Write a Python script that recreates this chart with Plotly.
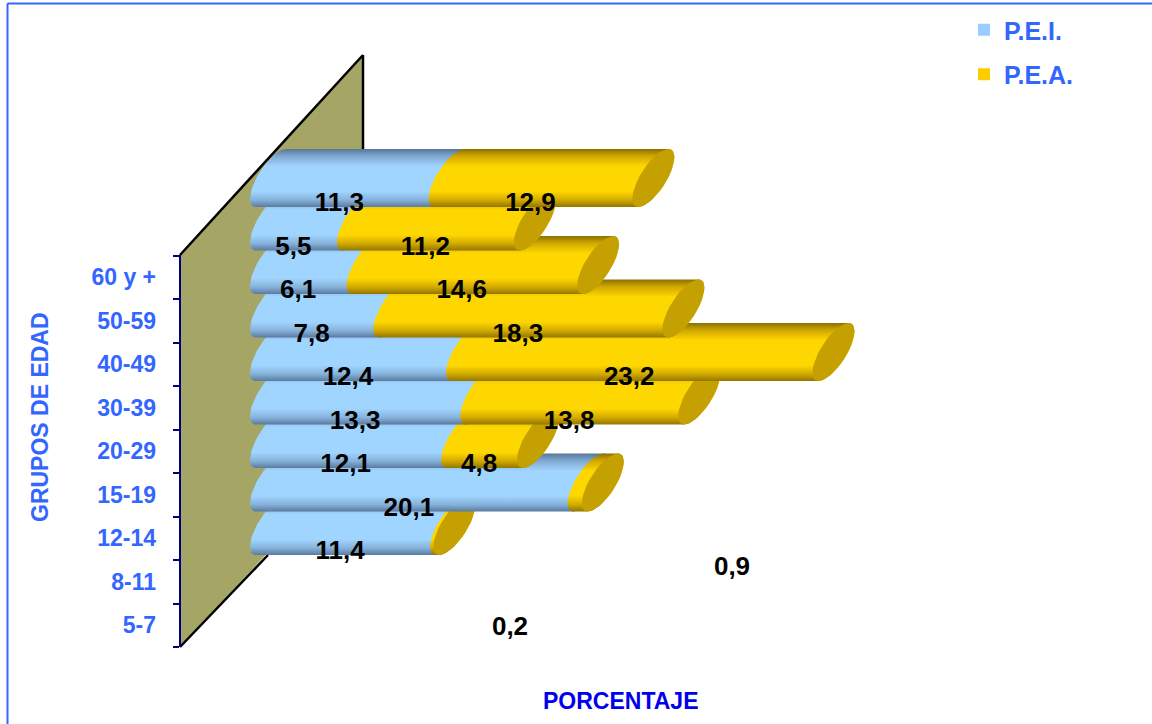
import math
import plotly.graph_objects as go

# ---- data -------------------------------------------------------------
age_groups = ["5-7", "8-11", "12-14", "15-19", "20-29", "30-39", "40-49", "50-59", "60 y +"]
pei_values = [11.4, 20.1, 12.1, 13.3, 12.4, 7.8, 6.1, 5.5, 11.3]
pea_values = [0.2, 0.9, 4.8, 13.8, 23.2, 18.3, 14.6, 11.2, 12.9]
series_names = ["P.E.I.", "P.E.A."]
x_title = "PORCENTAJE"
y_title = "GRUPOS DE EDAD"

# ---- geometry ---------------------------------------------------------
W, H = 1152, 724
PX_X = 15.8           # px per percent
PX_Y = 43.5           # px per row
BASE_PX = 250         # pixel of x = 0
PLOT_LEFT = 180
ROW0_PX = 625.25      # pixel of row 0 centre
LIFT = (ROW0_PX - 555) / PX_Y   # row units from category centre to bar bottom
RX, RY = 21 / PX_X, 29 / PX_Y   # half extents of the tilted cross-section
PHI = math.radians(44.4)
STEPS = 36

BLUE, GOLD, CAP, WALL = "#99CCFF", "#FFCC00", "#C4A000", "#A5A565"
ACCENT, NAVY = "#3366FF", "#000080"
FONT = "Liberation Sans"

blue_scale = [[0, "#5A7AA0"], [0.12, "#86B2DA"], [0.27, "#A0D5FF"], [0.70, "#A0D5FF"], [0.88, "#7FA7CF"], [1, "#56769A"]]
gold_scale = [[0, "#927600"], [0.12, "#D2AA00"], [0.27, "#FFD700"], [0.70, "#FFD700"], [0.88, "#CFA600"], [1, "#8A7000"]]


def ellipse_arc(x_left, y_bottom, t0, t1):
    """Outline of the cross-section whose left extreme is x_left, bottom y_bottom."""
    cx, cy = x_left + RX, y_bottom + RY
    ts = [t0 + (t1 - t0) * k / STEPS for k in range(STEPS + 1)]
    return [cx + RX * math.cos(t) for t in ts], [cy + RY * math.cos(t - PHI) for t in ts]


def cylinder(x0, x1, y_bottom):
    lx, ly = ellipse_arc(x0, y_bottom, PHI, PHI + math.pi)
    rx, ry = ellipse_arc(x1, y_bottom, PHI + math.pi, PHI + 2 * math.pi)
    return lx + rx + lx[:1], ly + ry + ly[:1]


def xp(px):
    return px / W


def yp(py):
    return 1 - py / H


fig = go.Figure()
rows = list(range(len(age_groups)))

# stacked bars: carry the values and the legend swatches
bar_px = 2 / PX_Y
bar_offset = LIFT + 8.3 / PX_Y - bar_px / 2
for name, vals, colour in zip(series_names, (pei_values, pea_values), (BLUE, GOLD)):
    fig.add_trace(go.Bar(
        y=rows, x=vals, name=name, orientation="h", width=bar_px, offset=bar_offset,
        marker=dict(color=colour, line=dict(width=0)), legendgroup=name, hoverinfo="x+name",
    ))

# cylinders, painted from the lowest row upward
for i in rows:
    yb = i + LIFT
    pei, pea = pei_values[i], pea_values[i]
    for x0, x1, scale in ((0, pei, blue_scale), (pei, pei + pea, gold_scale)):
        xs, ys = cylinder(x0, x1, yb)
        fig.add_trace(go.Scatter(
            x=xs, y=ys, mode="lines", line=dict(width=0), fill="toself",
            fillgradient=dict(type="vertical", colorscale=scale, start=yb, stop=yb + 2 * RY),
            showlegend=False, hoverinfo="skip",
        ))
    xs, ys = ellipse_arc(pei + pea, yb, 0, 2 * math.pi)
    fig.add_trace(go.Scatter(
        x=xs, y=ys, mode="lines", line=dict(width=0), fill="toself", fillcolor=CAP,
        showlegend=False, hoverinfo="skip",
    ))

# value labels
LABEL_DROP = 2.5 / PX_Y
moved_labels = {0: (510, 628), 1: (732, 568)}   # P.E.A. labels dragged away from their bars
lab_x, lab_y, lab_t = [], [], []
for i in rows:
    lab_x.append(pei_values[i] / 2)
    lab_y.append(i + LIFT + LABEL_DROP)
    lab_t.append(f"{pei_values[i]:.1f}".replace(".", ","))
    if i in moved_labels:
        px, py = moved_labels[i]
        lab_x.append((px - BASE_PX) / PX_X)
        lab_y.append((ROW0_PX - py) / PX_Y)
    else:
        lab_x.append(pei_values[i] + pea_values[i] / 2)
        lab_y.append(i + LIFT + LABEL_DROP)
    lab_t.append(f"{pea_values[i]:.1f}".replace(".", ","))
fig.add_trace(go.Scatter(
    x=lab_x, y=lab_y, text=lab_t, mode="text", textposition="middle center",
    textfont=dict(family=FONT, size=26, color="black", weight="bold"), showlegend=False, hoverinfo="skip",
))

# wall and frame
wall_path = (f"M{xp(180)},{yp(647)} L{xp(363)},{yp(450)} L{xp(363)},{yp(55)} L{xp(180)},{yp(255)} Z")
shapes = [
    dict(type="path", path=wall_path, xref="paper", yref="paper", fillcolor=WALL, line=dict(width=0), layer="below"),
]
for (a, b, c, d), col, lw in (
    ((180, 255, 363, 55), "black", 2.5),
    ((363, 55, 363, 150), "black", 2.5),
    ((180, 647, 268, 555), "black", 2.5),
    ((180, 255, 180, 647), NAVY, 2),
    ((7.5, 3.5, 7.5, 724), ACCENT, 2),
    ((7.5, 3.5, 1152, 3.5), ACCENT, 2),
):
    shapes.append(dict(type="line", xref="paper", yref="paper", x0=xp(a), y0=yp(b), x1=xp(c), y1=yp(d),
                       line=dict(color=col, width=lw), layer="below"))

annotations = [
    dict(text=f"<b>{y_title}</b>", xref="paper", yref="paper", x=xp(40), y=yp(417), showarrow=False,
         xanchor="center", yanchor="middle", textangle=-90, font=dict(family=FONT, size=23, color=ACCENT)),
    dict(text=f"<b>{x_title}</b>", xref="paper", yref="paper", x=xp(620.5), y=yp(701), showarrow=False,
         xanchor="center", yanchor="middle", font=dict(family=FONT, size=23, color="#0000EE")),
]

fig.update_layout(
    width=W, height=H, margin=dict(l=0, r=0, t=0, b=0), autosize=False,
    paper_bgcolor="white", plot_bgcolor="rgba(0,0,0,0)", barmode="stack", bargap=0,
    shapes=shapes, annotations=annotations, showlegend=True,
    legend=dict(x=xp(964), y=yp(7), xanchor="left", yanchor="top", bgcolor="rgba(0,0,0,0)",
                traceorder="grouped", tracegroupgap=9,
                font=dict(family=FONT, size=25, color=ACCENT, weight="bold")),
    xaxis=dict(domain=[xp(PLOT_LEFT), 1], range=[(PLOT_LEFT - BASE_PX) / PX_X, (W - BASE_PX) / PX_X],
               showgrid=False, zeroline=False, showticklabels=False, ticks=""),
    yaxis=dict(domain=[0, 1], range=[(ROW0_PX - H) / PX_Y, ROW0_PX / PX_Y],
               showgrid=False, zeroline=False, showline=False,
               tickmode="array", tickvals=rows, ticktext=age_groups, ticks="", ticklabelstandoff=23,
               tickfont=dict(family=FONT, size=23, color=ACCENT, weight="bold"),
               minor=dict(tickmode="array", tickvals=[r - 0.5 for r in rows] + [rows[-1] + 0.5],
                          ticks="outside", ticklen=6, tickwidth=2, tickcolor=NAVY, showgrid=False)),
)

fig.write_html("out.html", config={"displayModeBar": False},
               post_script="document.body.style.margin='0';")
